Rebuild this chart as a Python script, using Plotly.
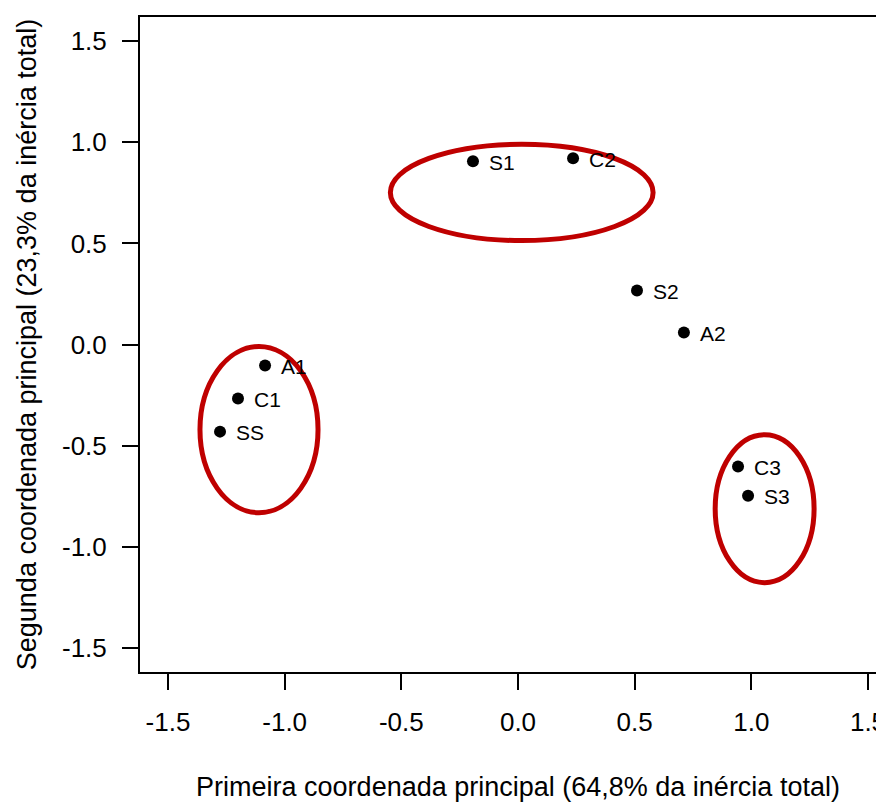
import plotly.graph_objects as go

# Point data (principal coordinates)
labels = ["S1", "C2", "S2", "A2", "A1", "C1", "SS", "C3", "S3"]
coord1 = [-0.193, 0.236, 0.510, 0.711, -1.084, -1.200, -1.277, 0.943, 0.986]
coord2 = [0.906, 0.921, 0.267, 0.059, -0.104, -0.267, -0.431, -0.604, -0.748]

# Group ellipses (centre and semi-axes, in data units)
ell_cx = [-1.110, 1.057, 0.016]
ell_cy = [-0.421, -0.812, 0.752]
ell_ax = [0.253, 0.212, 0.563]
ell_ay = [0.411, 0.366, 0.238]

tick_vals = [-1.5, -1.0, -0.5, 0.0, 0.5, 1.0, 1.5]
tick_text = ["-1.5", "-1.0", "-0.5", "0.0", "0.5", "1.0", "1.5"]

FONT = "Liberation Sans, Arial, sans-serif"

fig = go.Figure()
fig.add_trace(go.Scatter(
    x=coord1, y=coord2, mode="markers",
    marker=dict(size=12, color="black"),
    showlegend=False, hoverinfo="skip",
))

for lab, x, y in zip(labels, coord1, coord2):
    fig.add_annotation(x=x, y=y, text=lab, showarrow=False,
                       xanchor="left", yanchor="middle", xshift=14, yshift=-1,
                       font=dict(family=FONT, size=21, color="black"))

for cx, cy, ax, ay in zip(ell_cx, ell_cy, ell_ax, ell_ay):
    fig.add_shape(type="circle", xref="x", yref="y",
                  x0=cx - ax, x1=cx + ax, y0=cy - ay, y1=cy + ay,
                  line=dict(color="#BF0000", width=5), layer="above")

fig.update_layout(
    width=888, height=804,
    margin=dict(l=132, r=0, t=9, b=140),
    paper_bgcolor="white", plot_bgcolor="white",
    font=dict(family=FONT, size=26, color="black"),
)
fig.update_xaxes(
    range=[-1.62, 1.62], tickvals=tick_vals, ticktext=tick_text,
    showgrid=False, zeroline=False, automargin=False,
    showline=True, linecolor="black", linewidth=2, mirror=True,
    ticks="outside", ticklen=16, tickwidth=2, tickcolor="black",
    ticklabelstandoff=10, ticklabeloverflow="allow",
    tickfont=dict(family=FONT, size=26),
    title=dict(text="Primeira coordenada principal (64,8% da inércia total)",
               font=dict(family=FONT, size=27), standoff=41),
)
fig.update_yaxes(
    range=[-1.62, 1.62], tickvals=tick_vals, ticktext=tick_text,
    showgrid=False, zeroline=False, automargin=False,
    showline=True, linecolor="black", linewidth=2, mirror=False,
    ticks="outside", ticklen=16, tickwidth=2, tickcolor="black",
    ticklabelstandoff=10, ticklabeloverflow="allow",
    tickfont=dict(family=FONT, size=26),
    title=dict(text="Segunda coordenada principal (23,3% da inércia total)",
               font=dict(family=FONT, size=27), standoff=18),
)

fig.write_html("out.html")
